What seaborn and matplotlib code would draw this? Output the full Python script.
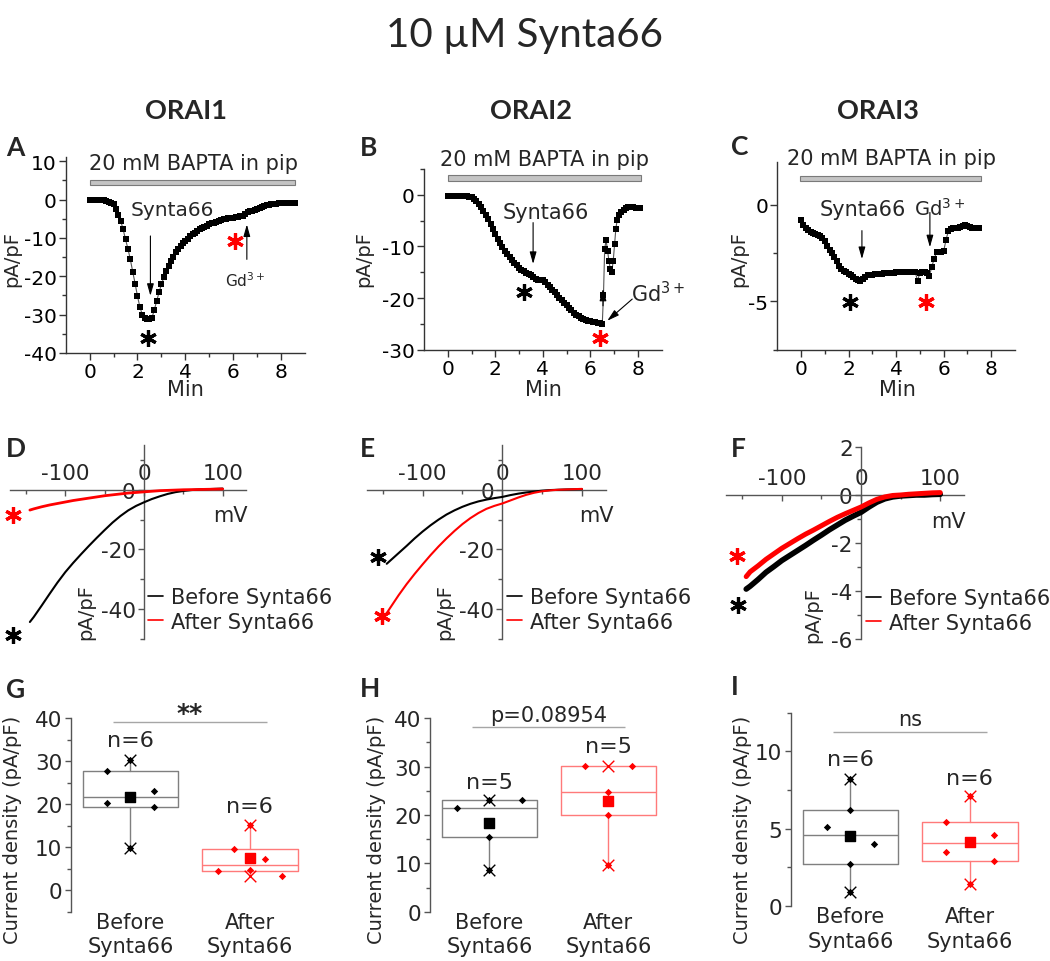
import numpy as np
import matplotlib
matplotlib.use("Agg")
import matplotlib.pyplot as plt
import seaborn as sns
from matplotlib.lines import Line2D

sns.set_theme(style="ticks")
plt.rcParams["font.family"] = ["DejaVu Sans"]
plt.rcParams["mathtext.fontset"] = "dejavusans"
plt.rcParams["axes.unicode_minus"] = False

# ---------------- data ----------------
# Panel A (ORAI1 time course)
A_time = np.round(np.arange(0, 8.61, 0.1), 2)
A_curr = [0, 0, 0, 0, 0, -0.1, -0.2, -0.4, -0.6, -0.9,
          -1.3, -2.5, -4.0, -5.6, -7.8, -10.4, -12.8, -15.6, -18.8, -21.9,
          -25.2, -28.0, -30.0, -30.9, -31.1, -31.1, -30.9, -28.8, -26.5, -24.2,
          -22.1, -20.3, -18.6, -17.2, -16.0, -14.9, -13.8, -12.9, -12.1, -11.4,
          -10.8, -10.2, -9.6, -9.1, -8.6, -8.2, -7.8, -7.5, -7.1, -6.8,
          -6.5, -6.2, -6.0, -5.8, -5.6, -5.4, -5.2, -5.0, -4.9, -4.8,
          -4.7, -4.6, -4.5, -4.4, -4.2, -3.9, -3.2, -3.0, -2.9, -2.8,
          -2.6, -2.3, -1.9, -1.7, -1.5, -1.4, -1.3, -1.2, -1.1, -1.0,
          -1.0, -1.0, -0.9, -0.9, -0.9, -0.9, -0.9]

# Panel B (ORAI2 time course)
B_time = list(np.round(np.arange(0, 6.51, 0.1), 2)) + [
    6.55, 6.6, 6.66, 6.72, 6.78, 6.84, 6.9, 6.96, 7.02, 7.07, 7.13,
    7.2, 7.3, 7.4, 7.5, 7.6, 7.7, 7.8, 7.9, 8.0, 8.1]
B_curr = [-0.2, -0.2, -0.2, -0.2, -0.2, -0.2, -0.2, -0.25, -0.3, -0.35,
          -0.5, -0.8, -1.3, -1.8, -2.4, -3.1, -3.9, -4.7, -5.6, -6.6,
          -7.6, -8.5, -9.4, -10.2, -10.9, -11.5, -12.1, -12.7, -13.2, -13.7,
          -14.1, -14.5, -14.8, -15.1, -15.4, -15.6, -15.9, -16.3, -16.5, -16.5,
          -16.6, -16.9, -17.4, -17.9, -18.4, -18.9, -19.4, -19.9, -20.4, -20.9,
          -21.4, -21.9, -22.4, -22.8, -23.2, -23.5, -23.8, -24.0, -24.2, -24.4,
          -24.5, -24.6, -24.7, -24.8, -24.9, -25.0,
          -19.5, -10.6, -8.7, -10.8, -12.8, -14.4, -14.9, -12.8, -9.5, -6.6, -4.8,
          -4.0, -3.3, -2.9, -2.6, -2.4, -2.3, -2.4, -2.5, -2.6, -2.6]

# Panel C (ORAI3 time course)
C_time = np.round(np.arange(0, 7.51, 0.1), 2)
C_curr = [-0.78, -1.07, -1.22, -1.32, -1.40, -1.46, -1.53, -1.58, -1.63, -1.72,
          -1.90, -2.12, -2.32, -2.52, -2.72, -2.93, -3.15, -3.30, -3.42, -3.50,
          -3.58, -3.66, -3.76, -3.85, -3.91, -3.93, -3.82, -3.72, -3.66, -3.62,
          -3.61, -3.60, -3.59, -3.58, -3.56, -3.55, -3.54, -3.53, -3.52, -3.51,
          -3.50, -3.50, -3.49, -3.48, -3.47, -3.47, -3.47, -3.48, -3.47, -3.93,
          -3.52, -3.50, -3.50, -3.52, -3.68, -3.20, -2.80, -2.45, -2.45, -2.45,
          -2.40, -1.80, -1.35, -1.25, -1.22, -1.20, -1.18, -1.15, -1.08, -1.05,
          -1.12, -1.17, -1.20, -1.22, -1.21, -1.22]

# BAPTA bars: start, end, y, height
bar_A = [0.0, 8.6, 4.4, 1.3]
bar_B = [0.0, 8.15, 3.2, 1.1]
bar_C = [-0.05, 7.58, 1.36, 0.3]

# I-V curves (mV)
V = [-145, -140, -130, -120, -110, -100, -90, -80, -70, -60, -50, -40, -30,
     -20, -10, 0, 10, 20, 30, 40, 50, 60, 70, 80, 90, 100]
D_before = [-44.3, -42.6, -38.8, -34.9, -31.1, -27.6, -24.5, -21.6, -18.8, -16.1,
            -13.5, -11.0, -8.8, -6.9, -5.4, -4.2, -3.1, -2.2, -1.4, -0.8,
            -0.4, -0.1, 0.1, 0.2, 0.3, 0.4]
D_after = [-6.8, -6.4, -5.7, -5.1, -4.6, -4.1, -3.6, -3.2, -2.8, -2.4,
           -2.0, -1.7, -1.4, -1.1, -0.9, -0.7, -0.5, -0.3, -0.2, -0.1,
           0.0, 0.05, 0.1, 0.15, 0.2, 0.25]
E_before = [-24.8, -23.6, -21.2, -18.8, -16.3, -14.0, -11.9, -10.0, -8.3, -6.9,
            -5.7, -4.7, -3.9, -3.3, -2.8, -2.4, -1.8, -1.3, -0.9, -0.6,
            -0.3, -0.1, 0.0, 0.1, 0.15, 0.2]
E_after = [-41.3, -39.3, -35.3, -31.6, -28.2, -25.0, -21.9, -19.0, -16.3, -13.8,
           -11.5, -9.5, -7.8, -6.4, -5.4, -4.6, -3.6, -2.6, -1.7, -1.0,
           -0.5, -0.2, 0.0, 0.1, 0.2, 0.3]
F_before = [-3.92, -3.8, -3.52, -3.22, -2.98, -2.73, -2.52, -2.31, -2.1, -1.88,
            -1.67, -1.45, -1.25, -1.05, -0.88, -0.72, -0.5, -0.3, -0.16, -0.08,
            -0.04, -0.02, 0.0, 0.0, 0.02, 0.03]
F_after = [-3.4, -3.2, -2.95, -2.68, -2.45, -2.22, -2.02, -1.82, -1.63, -1.46,
           -1.28, -1.1, -0.93, -0.78, -0.64, -0.5, -0.33, -0.18, -0.08, -0.02,
           0.0, 0.03, 0.05, 0.07, 0.09, 0.1]

# Box-plot data (current density, pA/pF)
groups = ["Before\nSynta66", "After\nSynta66"]
G_before = [27.8, 20.3, 30.3, 9.9, 23.0, 19.4]
G_after = [9.7, 4.5, 15.1, 4.6, 7.2, 3.4]
H_before = [21.4, 23.1, 23.0, 15.5, 8.7]
H_after = [30.1, 30.1, 24.8, 20.0, 9.7]
I_before = [8.2, 6.2, 5.1, 4.0, 2.7, 0.9]
I_after = [7.1, 5.4, 4.6, 3.5, 2.9, 1.4]
# horizontal layout of individual points beside the box centre
G_off_b = [-0.2, -0.2, 0, 0, 0.2, 0.2]
G_off_a = [-0.13, -0.27, 0, 0, 0.13, 0.27]
H_off_b = [-0.27, 0.27, 0, 0, 0]
H_off_a = [-0.2, 0.2, 0, 0, 0]
I_off_b = [0, 0, -0.2, 0.2, 0, 0]
I_off_a = [0, -0.2, 0.2, -0.2, 0.2, 0]

# ---------------- figure ----------------
W, H = 1050, 962
fig = plt.figure(figsize=(W / 100, H / 100), dpi=100)
AXC = "#333333"
TITLE_FONT = ["Lato", "DejaVu Sans"]


def add_ax(l, t, r, b):
    ax = fig.add_axes([l / W, 1 - b / H, (r - l) / W, (b - t) / H])
    ax.patch.set_alpha(0)
    return ax


def ftext(x, y, s, **kw):
    fig.text(x / W, 1 - y / H, s, ha="center", va="center", **kw)


def star(ax, x, y, color):
    ax.plot([x], [y], linestyle="none", marker=(6, 2, 0), markersize=12,
            markeredgewidth=2.3, color=color, clip_on=False, zorder=6)


def arrow(ax, tail, tip):
    ax.annotate("", xy=tip, xytext=tail,
                arrowprops=dict(arrowstyle="-|>,head_length=0.6,head_width=0.17",
                                color="black", lw=0.8, shrinkA=0, shrinkB=0),
                annotation_clip=False)


def style_trace(ax, ylim, yt, ymt):
    ax.set_xlim(-1, 9)
    ax.set_ylim(*ylim)
    ax.set_xticks([0, 2, 4, 6, 8])
    ax.set_xticks([1, 3, 5, 7], minor=True)
    ax.set_yticks(yt)
    ax.set_yticks(ymt, minor=True)
    for s in ["top", "right"]:
        ax.spines[s].set_visible(False)
    for s in ["left", "bottom"]:
        ax.spines[s].set_color(AXC)
        ax.spines[s].set_linewidth(1)
    ax.tick_params(which="major", direction="out", length=5, width=1,
                   color=AXC, labelsize=14.5, pad=1.5, labelcolor="black")
    ax.tick_params(which="minor", direction="out", length=3, width=1, color=AXC)


def draw_trace(ax, t, v, bar):
    ax.barh(y=[bar[2]], width=[bar[1] - bar[0]], left=[bar[0]], height=bar[3],
            color="#c4c4c4", edgecolor="#7a7a7a", linewidth=0.8, clip_on=False)
    ax.plot(t, v, color="#555555", lw=0.8, zorder=3)
    sns.scatterplot(x=t, y=v, marker="s", s=17, color="black", linewidth=0,
                    ax=ax, zorder=4, legend=False)


# --- top row ---
axA = add_ax(65.7, 158.3, 305, 354)
draw_trace(axA, A_time, A_curr, bar_A)
style_trace(axA, (-40, 11), [-40, -30, -20, -10, 0, 10], [-35, -25, -15, -5, 5])
axA.text(4.32, 9.4, "20 mM BAPTA in pip", fontsize=15, ha="center", va="center")
axA.text(3.45, -2.6, "Synta66", fontsize=14.5, ha="center", va="center")
arrow(axA, (2.54, -9.5), (2.54, -25.1))
axA.text(6.5, -20.8, "Gd$^{3+}$", fontsize=11, ha="center", va="center")
arrow(axA, (6.57, -15.6), (6.57, -6.5))
star(axA, 2.43, -36, "black")
star(axA, 6.06, -10.8, "red")

axB = add_ax(424, 169.9, 661.7, 350.7)
draw_trace(axB, B_time, B_curr, bar_B)
style_trace(axB, (-30, 5), [-30, -20, -10, 0], [-25, -15, -5, 5])
axB.text(4.06, 7.0, "20 mM BAPTA in pip", fontsize=15, ha="center", va="center")
axB.text(4.13, -3.4, "Synta66", fontsize=15, ha="center", va="center")
arrow(axB, (3.59, -5.4), (3.59, -13.4))
axB.text(8.85, -18.9, "Gd$^{3+}$", fontsize=15, ha="center", va="center")
arrow(axB, (7.76, -20.2), (6.71, -24.4))
arrow(axB, (6.53, -21.5), (6.53, -18.2))
star(axB, 3.22, -18.9, "black")
star(axB, 6.39, -27.8, "red")

axC = add_ax(777.3, 163.2, 1015, 350.7)
draw_trace(axC, C_time, C_curr, bar_C)
style_trace(axC, (-7.5, 2.2), [-5, 0], [-7.5, -2.5])
axC.text(3.81, 2.4, "20 mM BAPTA in pip", fontsize=15, ha="center", va="center")
axC.text(2.6, -0.22, "Synta66", fontsize=15, ha="center", va="center")
arrow(axC, (2.56, -1.34), (2.56, -2.81))
axC.text(5.84, -0.15, "Gd$^{3+}$", fontsize=14, ha="center", va="center")
arrow(axC, (5.42, -0.4), (5.42, -2.2))
star(axC, 2.07, -5.05, "black")
star(axC, 5.25, -5.02, "red")

for x in (12, 364, 739):
    ftext(x, 259, "pA/pF", fontsize=14, rotation=90)
for x in (185, 543, 897):
    ftext(x, 390, "Min", fontsize=15)


# --- middle row ---
def style_iv(ax, ylim, yt, ymt):
    ax.set_xlim(-170, 130)
    ax.set_ylim(*ylim)
    ax.spines["top"].set_position(("data", 0))
    ax.spines["left"].set_position(("data", 0))
    ax.spines["bottom"].set_visible(False)
    ax.spines["right"].set_visible(False)
    for s in ["top", "left"]:
        ax.spines[s].set_color("#555555")
        ax.spines[s].set_linewidth(1)
    ax.xaxis.set_ticks_position("top")
    ax.set_xticks([-100, 0, 100])
    ax.set_xticks([-150, -50, 50], minor=True)
    ax.set_yticks(yt)
    ax.set_yticks(ymt, minor=True)
    ax.tick_params(axis="x", which="major", direction="in", length=4, width=1,
                   color="#555555", labelsize=15.5, pad=5)
    ax.tick_params(axis="x", which="minor", direction="in", length=3, width=1,
                   color="#555555")
    ax.tick_params(axis="y", which="major", direction="out", length=4, width=1,
                   color="#555555", labelsize=15.5, pad=2)
    ax.tick_params(axis="y", which="minor", direction="out", length=3, width=1,
                   color="#555555")


def iv_panel(ax, before, after, lw_b, lw_a, legend_xy):
    sns.lineplot(x=V, y=before, color="black", lw=lw_b, estimator=None, sort=False,
                 ax=ax, zorder=3)
    sns.lineplot(x=V, y=after, color="red", lw=lw_a, estimator=None, sort=False,
                 ax=ax, zorder=4)
    handles = [Line2D([], [], color="black", lw=1.2),
               Line2D([], [], color="red", lw=1.2)]
    ax.legend(handles, ["Before Synta66", "After Synta66"], loc="upper left",
              bbox_to_anchor=(legend_xy[0] / W, 1 - legend_xy[1] / H),
              bbox_transform=fig.transFigure, frameon=False, fontsize=15,
              handlelength=0.7, handletextpad=0.4, labelspacing=0.22,
              borderpad=0, borderaxespad=0)


axD = add_ax(10.2, 446, 246.3, 640)
iv_panel(axD, D_before, D_after, 1.5, 2.0, (148, 588))
style_iv(axD, (-50, 15), [-40, -20, 0], [-50, -30, -10, 10])
axD.text(110, -8.6, "mV", fontsize=15, ha="center", va="center")
axD.text(-74, -40.5, "pA/pF", fontsize=14, rotation=90, ha="center", va="center")
star(axD, -166, -48.6, "black")
star(axD, -166, -8.6, "red")

axE = add_ax(366.8, 446, 605.9, 640)
iv_panel(axE, E_before, E_after, 1.5, 1.5, (507, 588))
style_iv(axE, (-50, 15), [-40, -20, 0], [-50, -30, -10, 10])
axE.text(118, -8.6, "mV", fontsize=15, ha="center", va="center")
axE.text(-72, -40.7, "pA/pF", fontsize=14, rotation=90, ha="center", va="center")
star(axE, -155.6, -22.4, "black")
star(axE, -151, -42.4, "red")

axF = add_ax(726.4, 448, 964, 640)
iv_panel(axF, F_before, F_after, 4.0, 3.6, (866, 589))
style_iv(axF, (-6, 2), [-6, -4, -2, 0, 2], [-5, -3, -1, 1])
axF.text(110, -1.07, "mV", fontsize=15, ha="center", va="center")
axF.text(-60.6, -4.96, "pA/pF", fontsize=14, rotation=90, ha="center", va="center")
star(axF, -157, -2.53, "red")
star(axF, -155, -4.6, "black")


# --- bottom row ---
def box_stats(vals):
    v = np.asarray(vals, dtype=float)
    q1, q3 = np.percentile(v, [25, 75], method="nearest")
    return dict(med=float(np.median(v)), q1=float(q1), q3=float(q3),
                whislo=float(v.min()), whishi=float(v.max()), fliers=[],
                mean=float(v.mean()))


def box_panel(ax, before, after, off_b, off_a, ylim, yt, ymt):
    specs = [(1, before, off_b, "#7f7f7f", "black"),
             (2, after, off_a, "#ff7a7a", "red")]
    for pos, vals, off, bc, pc in specs:
        st = box_stats(vals)
        ax.bxp([st], positions=[pos], widths=0.8, showfliers=False,
               showcaps=False, showmeans=False, manage_ticks=False,
               boxprops=dict(color=bc, lw=1),
               whiskerprops=dict(color=bc, lw=1),
               medianprops=dict(color=bc, lw=1))
        sns.scatterplot(x=pos + np.asarray(off), y=vals, marker="D", s=14,
                        color=pc, linewidth=0, ax=ax, zorder=5, legend=False)
        ax.scatter([pos, pos], [st["whislo"], st["whishi"]], marker="x", s=70,
                   color=pc, linewidths=1, zorder=6)
        ax.scatter([pos], [st["mean"]], marker="s", s=45, color=pc, zorder=7)
    ax.set_xlim(0.5, 2.5)
    ax.set_ylim(*ylim)
    ax.set_xticks([1, 2])
    ax.set_xticklabels(groups, linespacing=1.3)
    ax.set_yticks(yt)
    ax.set_yticks(ymt, minor=True)
    for s in ["top", "right", "bottom"]:
        ax.spines[s].set_visible(False)
    ax.spines["left"].set_color("#555555")
    ax.spines["left"].set_linewidth(1)
    ax.tick_params(axis="x", length=0, labelsize=15, pad=0)
    ax.tick_params(axis="y", which="major", direction="out", length=4, width=1,
                   color="#555555", labelsize=15.5, pad=2)
    ax.tick_params(axis="y", which="minor", direction="out", length=3, width=1,
                   color="#555555")


def sig(ax, y, label, ty, **kw):
    ax.hlines(y, 0.857, 2.143, color="#a6a6a6", lw=1, clip_on=False)
    ax.text(1.5, ty, label, ha="center", clip_on=False, **kw)


axG = add_ax(70.7, 719.3, 309.5, 912.7)
box_panel(axG, G_before, G_after, G_off_b, G_off_a, (-5, 40),
          [0, 10, 20, 30, 40], [-5, 5, 15, 25, 35])
sig(axG, 39.2, "**", 39.6, fontsize=18, fontweight="bold", va="baseline")
axG.text(1, 35.0, "n=6", fontsize=16, ha="center", va="center")
axG.text(2, 19.7, "n=6", fontsize=16, ha="center", va="center")

axH = add_ax(430, 719.3, 667.8, 912.7)
box_panel(axH, H_before, H_after, H_off_b, H_off_a, (0, 40),
          [0, 10, 20, 30, 40], [5, 15, 25, 35])
sig(axH, 38.1, "p=0.08954", 40.7, fontsize=15, va="center")
axH.text(1, 26.8, "n=5", fontsize=16, ha="center", va="center")
axH.text(2, 34.3, "n=5", fontsize=16, ha="center", va="center")

axI = add_ax(790.7, 713.8, 1029.5, 906.7)
box_panel(axI, I_before, I_after, I_off_b, I_off_a, (0, 12.5),
          [0, 5, 10], [2.5, 7.5, 12.5])
sig(axI, 11.23, "ns", 12.1, fontsize=15, va="center")
axI.text(1, 9.5, "n=6", fontsize=16, ha="center", va="center")
axI.text(2, 8.3, "n=6", fontsize=16, ha="center", va="center")

for x in (13, 377, 743):
    ftext(x, 830, "Current density (pA/pF)", fontsize=14, rotation=90)

# --- titles and panel letters ---
ftext(525, 35, "10 µM Synta66", fontsize=29, family=TITLE_FONT)
for x, s in [(186, "ORAI1"), (531, "ORAI2"), (878, "ORAI3")]:
    ftext(x, 111, s, fontsize=19.5, family=TITLE_FONT, fontweight="bold")
letters = [("A", 15, 148), ("B", 369, 148), ("C", 740, 147),
           ("D", 16, 449), ("E", 367, 449), ("F", 738, 449),
           ("G", 16, 690), ("H", 370, 689), ("I", 735, 687)]
for s, x, y in letters:
    ftext(x, y, s, fontsize=19, family=TITLE_FONT, fontweight="bold")

fig.savefig("out.png", dpi=100)
